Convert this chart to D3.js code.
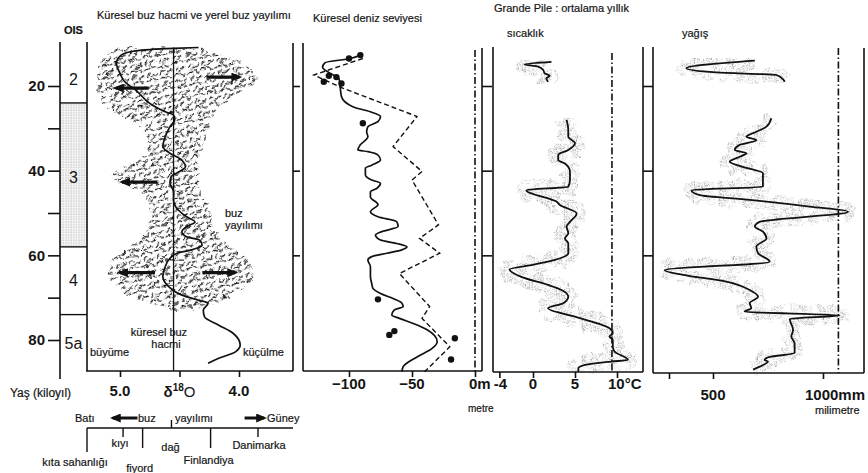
<!DOCTYPE html>
<html>
<head>
<meta charset="utf-8">
<script src="https://cdn.jsdelivr.net/npm/d3@7"></script>
<style>
  body { margin: 0; background: #fff; }
  text { font-family: "Liberation Sans", Arial, sans-serif; fill: #151515; }
  .lbl { font-size: 11px; stroke: #151515; stroke-width: 0.2; }
  .tk { font-size: 15px; font-weight: bold; }
</style>
</head>
<body>
<svg id="chart" width="868" height="473"></svg>
<script>
// ---------- data ----------
var ageTicks = [20, 30, 40, 50, 60, 70, 80];
var ageLabels = [20, 40, 60, 80];

// marine isotope stages
var oisNames = ["2", "3", "4", "5a"];
var oisBounds = [24, 58, 74];
var oisLabelAge = [18.5, 41.5, 66, 80.7];

// global ice volume (d18O) curve
var d18Age = [10.9, 11.1, 11.7, 12.7, 14.6, 17.0, 19.0, 20.9, 24.5, 26.1, 26.9, 28.0, 29.6, 32.0, 34.3, 35.9, 37.1, 39.1, 40.2, 41.4, 43.0, 45.0, 46.9, 49.3, 50.9, 52.1, 53.2, 54.4, 55.6, 56.4, 57.6, 58.7, 59.5, 60.7, 62.7, 65.0, 67.4, 69.4, 70.6, 71.3, 72.9, 74.5, 76.5, 78.4, 81.2, 82.8, 84.3, 85.5];
var d18Val = [4.34, 4.55, 4.87, 4.99, 5.03, 5.00, 4.96, 4.87, 4.73, 4.62, 4.55, 4.54, 4.58, 4.62, 4.64, 4.58, 4.50, 4.45, 4.50, 4.57, 4.58, 4.55, 4.55, 4.51, 4.44, 4.37, 4.44, 4.48, 4.44, 4.33, 4.31, 4.40, 4.52, 4.58, 4.62, 4.64, 4.59, 4.48, 4.34, 4.26, 4.30, 4.29, 4.17, 4.05, 3.99, 4.03, 4.17, 4.26];
var d18Ref = 4.55;
var d18Ticks = [5.0, 4.5, 4.0];

// local ice extent (0 = continental shelf in the west, 100 = far south)
var iceAge  = [11.1, 13.9, 17.0, 19.4, 20.9, 22.5, 24.9, 27.2, 28.8, 32.8, 36.7, 39.1, 40.6, 43.0, 44.6, 48.5, 52.4, 56.4, 59.5, 62.7, 65.8, 69.0, 71.3, 72.9];
var iceWest = [15, 6, 4, 4.5, 5, 6.5, 8, 17, 26, 30, 29, 18, 11, 14, 28, 31, 31, 26.5, 14, 10, 11, 18, 31, 41];
var iceEast = [54, 75, 83, 82, 77, 70, 64, 61, 59, 57, 54, 54, 54, 54.5, 55, 59, 60, 65, 75, 81, 81, 73, 64, 52];
var arrowAge  = [17.9, 20.5, 42.7, 64.1, 64.1];
var arrowFrom = [58, 30, 34, 33, 56];
var arrowTo   = [74, 14, 17, 16, 72];

// places along the west-south transect
var placeNames = ["kıta sahanlığı", "kıyı", "fiyord", "dağ", "Finlandiya", "Danimarka"];
var placePos = [0, 17.5, 27, 41, 60, 83];

// global sea level (m)
var seaAge = [12.7, 13.5, 14.5, 15.6, 17.0, 18.2, 20.2, 22.5, 24.9, 26.1, 27.2, 28.4, 29.6, 30.8, 32.0, 33.9, 35.1, 35.5, 36.3, 37.5, 38.7, 39.4, 41.0, 42.2, 43.0, 44.2, 45.0, 46.2, 48.0, 49.7, 50.9, 52.1, 53.2, 54.4, 55.2, 56.4, 57.2, 58.0, 58.7, 59.5, 60.3, 61.1, 62.7, 65.0, 66.6, 67.8, 69.0, 70.2, 71.3, 72.1, 72.9, 74.1, 74.9, 76.1, 77.6, 80.4, 82.0, 84.0, 86.3, 87.5];
var seaLevel = [-91, -99, -119, -121, -115, -108, -107, -106, -97, -83, -75, -77, -85, -86, -85, -91, -93, -85, -77, -75, -82, -87, -87, -82, -75, -78, -83, -83, -77, -83, -77, -62, -61, -74, -79, -75, -62, -54, -58, -70, -82, -85, -83, -83, -82, -81, -75, -65, -58, -57, -64, -66, -60, -49, -38, -30, -34, -46, -57, -58];
var sea2Age = [13.5, 17.4, 20.5, 27.2, 34.3, 40.2, 42.2, 52.8, 56.0, 59.5, 64.3, 72.1, 74.9, 81.6, 87.5];
var sea2Level = [-89, -128, -105, -46, -65, -42, -50, -29, -44, -28, -60, -36, -42, -20, -40];
var seaDotAge = [12.7, 13.5, 17.6, 17.9, 19.4, 19.0, 28.8, 70.4, 78.8, 77.9, 79.6, 84.6];
var seaDotLevel = [-91, -100, -116, -110, -106, -120, -89, -77, -68, -64, -16, -19];
var seaTicks = [-100, -50, 0];
var seaRef = 0;

// Grande Pile mean annual temperature (degC), two sections
var tempAgeA = [14.3, 14.9, 15.4, 16.2, 17.0, 17.6, 18.2, 19.0];
var tempValA = [2.2, -1.0, 0.6, 1.2, 1.4, 2.0, 1.6, 1.8];
var tempAgeB = [28.0, 30.4, 32.0, 33.5, 35.1, 36.3, 37.5, 38.3, 40.2, 42.2, 43.8, 44.6, 47.3, 48.1, 50.1, 52.1, 53.2, 54.8, 56.0, 57.2, 59.5, 61.1, 62.3, 63.3, 65.1, 67.0, 68.2, 69.8, 71.3, 72.5, 74.5, 77.2, 78.4, 79.2, 80.0, 81.6, 82.7, 84.7, 85.1, 85.9, 86.7, 87.5];
var tempValB = [4.0, 4.2, 4.2, 5.0, 4.2, 3.0, 3.0, 3.8, 4.4, 4.4, 4.2, -0.8, 2.8, 3.2, 5.2, 4.4, 4.0, 4.2, 3.8, 4.2, 4.2, 2.6, -0.2, -2.8, -1.4, 1.8, 3.4, 4.2, 3.6, 1.8, 5.0, 9.1, 9.5, 9.1, 9.5, 9.5, 9.7, 11.3, 9.3, 6.2, 5.4, 5.4];
var tempTicks = [-4, 0, 5, 10];
var tempRef = 9.4;

// Grande Pile annual precipitation (mm), two sections
var precAgeA = [14.0, 15.8, 16.8, 17.4, 18.4, 19.0];
var precValA = [690, 379, 515, 788, 818, 826];
var precAgeB = [27.6, 29.6, 30.8, 32.0, 32.8, 33.9, 35.1, 35.9, 36.7, 37.9, 39.1, 40.6, 43.8, 44.6, 45.8, 46.9, 48.5, 49.7, 52.1, 53.2, 54.4, 56.0, 57.9, 59.5, 61.5, 63.5, 64.6, 66.2, 68.2, 69.8, 71.3, 72.5, 73.3, 74.2, 75.0, 77.6, 79.2, 80.8, 83.1, 84.0, 84.7, 85.1, 86.3, 87.0];
var precValB = [765, 743, 697, 652, 697, 621, 599, 652, 621, 576, 636, 727, 727, 402, 440, 667, 940, 1114, 712, 690, 727, 743, 697, 705, 758, 280, 364, 561, 667, 705, 667, 674, 644, 1076, 849, 864, 856, 871, 871, 758, 735, 750, 712, 682];
var precTicks = [300, 500, 1000];
var precRef = 1070;

// ---------- layout ----------
var svg = d3.select("#chart");
var defs = svg.append("defs");

var yAge = d3.scaleLinear().domain([20, 80]).range([86, 340]);
var xIce = d3.scaleLinear().domain([0, 100]).range([87, 293]);
var xD18 = d3.scaleLinear().domain([5.0, 4.0]).range([120, 239]);
var xSea = d3.scaleLinear().domain([-100, 0]).range([349, 475]);
var xTemp = d3.scaleLinear().domain([0, 10]).range([533, 617]);
var xPrec = d3.scaleLinear().domain([500, 1000]).range([713, 823]);

// textures
var ice = defs.append("pattern").attr("id", "ice").attr("patternUnits", "userSpaceOnUse")
  .attr("width", 14).attr("height", 12).attr("patternTransform", "rotate(-12)");
ice.append("path")
  .attr("d", "M1,3 q2.2,-2.6 4.6,-0.6 M8,1.5 q1.6,2.2 3.8,1.6 M2.5,9.5 q1.2,-2.2 3.4,-2.6 M8.5,8.5 q2,1.4 4.2,-0.8 M6,11.5 l2.4,-0.9")
  .attr("fill", "none").attr("stroke", "#111").attr("stroke-width", 1.25).attr("stroke-linecap", "round");

var dots = defs.append("pattern").attr("id", "dots").attr("patternUnits", "userSpaceOnUse")
  .attr("width", 2.6).attr("height", 2.6);
dots.append("circle").attr("cx", 1).attr("cy", 1).attr("r", 0.7).attr("fill", "#555");

var rough = defs.append("filter").attr("id", "rough")
  .attr("x", "-20%").attr("y", "-10%").attr("width", "140%").attr("height", "120%");
rough.append("feTurbulence").attr("type", "fractalNoise").attr("baseFrequency", 0.14)
  .attr("numOctaves", 2).attr("seed", 4).attr("result", "n");
rough.append("feDisplacementMap").attr("in", "SourceGraphic").attr("in2", "n")
  .attr("scale", 7).attr("xChannelSelector", "R").attr("yChannelSelector", "G");

// patchy stipple: noise mask + displacement
var patchy = defs.append("filter").attr("id", "patchy")
  .attr("x", "-30%").attr("y", "-10%").attr("width", "160%").attr("height", "120%");
patchy.append("feTurbulence").attr("type", "fractalNoise").attr("baseFrequency", 0.11)
  .attr("numOctaves", 2).attr("seed", 9).attr("result", "n");
patchy.append("feColorMatrix").attr("in", "n").attr("type", "matrix")
  .attr("values", "0 0 0 0 0  0 0 0 0 0  0 0 0 0 0  4.5 0 0 0 -1.6").attr("result", "m");
patchy.append("feComposite").attr("in", "SourceGraphic").attr("in2", "m")
  .attr("operator", "in").attr("result", "p");
patchy.append("feDisplacementMap").attr("in", "p").attr("in2", "n")
  .attr("scale", 12).attr("xChannelSelector", "R").attr("yChannelSelector", "G");

defs.append("marker").attr("id", "head").attr("markerUnits", "userSpaceOnUse")
  .attr("markerWidth", 11).attr("markerHeight", 9).attr("refX", 8).attr("refY", 4.5)
  .attr("orient", "auto")
  .append("path").attr("d", "M0,0 L11,4.5 L0,9 Z").attr("fill", "#111");

function vline(x, y1, y2, w) {
  svg.append("line").attr("x1", x).attr("x2", x).attr("y1", y1).attr("y2", y2)
    .attr("stroke", "#111").attr("stroke-width", w || 1.6);
}
function hline(y, x1, x2, w) {
  svg.append("line").attr("x1", x1).attr("x2", x2).attr("y1", y).attr("y2", y)
    .attr("stroke", "#111").attr("stroke-width", w || 1.6);
}
function label(x, y, s, cls, anchor) {
  return svg.append("text").attr("x", x).attr("y", y).attr("class", cls || "lbl")
    .attr("text-anchor", anchor || "start").text(s);
}
function vcurve(xs) {
  return d3.line().y(function(d) { return yAge(d[0]); })
    .x(function(d) { return xs(d[1]); }).curve(d3.curveMonotoneY);
}
function styleAxis(g) {
  g.attr("font-family", null).attr("font-size", null);
  g.select(".domain").remove();
  g.selectAll(".tick line").attr("stroke", "#111").attr("stroke-width", 1.6);
}
function sideTicks(x, len) {
  svg.append("g").attr("transform", "translate(" + x + ",0)")
    .call(d3.axisRight(yAge).tickValues([20, 40, 60]).tickSize(len).tickFormat(""))
    .call(styleAxis);
}
function bottomTicks(scale, vals, y) {
  svg.append("g").attr("transform", "translate(0," + y + ")")
    .call(d3.axisBottom(scale).tickValues(vals).tickSize(6).tickFormat(""))
    .call(styleAxis);
}
function stipple(series, xs, width) {
  series.forEach(function(s) {
    svg.append("path").datum(d3.zip(s[0], s[1])).attr("d", vcurve(xs))
      .attr("fill", "none").attr("stroke", "url(#dots)").attr("stroke-width", width)
      .attr("stroke-linejoin", "round").attr("opacity", 0.65).attr("filter", "url(#patchy)");
  });
}
function curves(series, xs) {
  series.forEach(function(s) {
    svg.append("path").datum(d3.zip(s[0], s[1])).attr("d", vcurve(xs))
      .attr("fill", "none").attr("stroke", "#111").attr("stroke-width", 1.8);
  });
}

// ---------- titles ----------
label(97, 19, "Küresel buz hacmi ve yerel buz yayılımı");
label(64, 34, "OIS", "lbl").attr("font-weight", "bold");
label(313, 22, "Küresel deniz seviyesi");
label(494, 12, "Grande Pile : ortalama yıllık");
label(507, 37, "sıcaklık");
label(682, 37, "yağış");

// ---------- age axis & OIS column ----------
svg.append("rect").attr("x", 60).attr("width", 27)
  .attr("y", yAge(oisBounds[0])).attr("height", yAge(oisBounds[1]) - yAge(oisBounds[0]))
  .attr("fill", "#f4f4f4");
svg.append("rect").attr("x", 60).attr("width", 27)
  .attr("y", yAge(oisBounds[0])).attr("height", yAge(oisBounds[1]) - yAge(oisBounds[0]))
  .attr("fill", "url(#dots)").attr("opacity", 0.3);
vline(60, 42, 379);
vline(87, 42, 371);
oisBounds.forEach(function(a) { hline(yAge(a), 60, 87, 1.4); });
oisNames.forEach(function(n, i) {
  svg.append("text").attr("x", 73.5).attr("y", yAge(oisLabelAge[i])).attr("dy", "0.36em")
    .attr("text-anchor", "middle").style("font-size", "16px").text(n);
});

var ageAxis = svg.append("g").attr("transform", "translate(60,0)")
  .call(d3.axisLeft(yAge).tickValues(ageTicks).tickSize(12).tickPadding(3)
    .tickFormat(function(d) { return ageLabels.indexOf(d) >= 0 ? d : ""; }))
  .call(styleAxis);
ageAxis.selectAll(".tick text").attr("class", "tk").attr("fill", null);

// ---------- panel 1: ice ----------
var iceData = iceAge.map(function(a, i) { return { age: a, w: iceWest[i], e: iceEast[i] }; });
svg.append("path").datum(iceData)
  .attr("d", d3.area().y(function(d) { return yAge(d.age); })
    .x0(function(d) { return xIce(d.w); }).x1(function(d) { return xIce(d.e); })
    .curve(d3.curveBasis))
  .attr("fill", "url(#ice)").attr("filter", "url(#rough)");

vline(xD18(d18Ref), yAge(10.9), 371, 1.3);
svg.append("path").datum(d3.zip(d18Age, d18Val))
  .attr("d", vcurve(xD18)).attr("fill", "none").attr("stroke", "#111").attr("stroke-width", 1.7);

arrowAge.forEach(function(a, i) {
  svg.append("line").attr("x1", xIce(arrowFrom[i])).attr("x2", xIce(arrowTo[i]))
    .attr("y1", yAge(a)).attr("y2", yAge(a))
    .attr("stroke", "#111").attr("stroke-width", 3.2).attr("marker-end", "url(#head)");
});

label(225, 217, "buz");
label(225, 229, "yayılımı");
label(159, 336, "küresel buz", "lbl", "middle");
label(166, 348, "hacmi", "lbl", "middle");
label(90, 356, "büyüme");
label(243, 356, "küçülme");

hline(371, 86, 293);
vline(293, 43, 371);
sideTicks(293, 7);
bottomTicks(xD18, d18Ticks, 371);
label(xD18(5.0), 396, "5.0", "tk", "middle");
label(xD18(4.0), 396, "4.0", "tk", "middle");
var dl = label(xD18(4.5), 397, "", "tk", "middle");
dl.append("tspan").text("δ");
dl.append("tspan").attr("dy", -6).style("font-size", "10px").text("18");
dl.append("tspan").attr("dy", 6).style("font-weight", "normal").text("O");
label(10, 397, "Yaş (kiloyıl)").style("font-size", "12px");

// transect below panel 1
hline(428, xIce(0), xIce(100), 1.4);
var tickEnd = [452, 437, 448, 420, 448, 437];
var nameY = [466, 447, 472, 451, 464, 449];
var nameDx = [-12, -3, -3, -1, -2, 1];
placePos.forEach(function(p, i) {
  vline(xIce(p), 428, tickEnd[i], 1.4);
  label(xIce(p) + nameDx[i], nameY[i], placeNames[i], "lbl", "middle");
});
svg.append("line").attr("x1", xIce(24.5)).attr("x2", xIce(12.5)).attr("y1", 418).attr("y2", 418)
  .attr("stroke", "#111").attr("stroke-width", 3).attr("marker-end", "url(#head)");
svg.append("line").attr("x1", xIce(76.5)).attr("x2", xIce(86)).attr("y1", 418).attr("y2", 418)
  .attr("stroke", "#111").attr("stroke-width", 3).attr("marker-end", "url(#head)");
label(75, 422, "Batı");
label(138, 422, "buz");
label(175, 422, "yayılımı");
label(267, 422, "Güney");

// ---------- panel 2: sea level ----------
vline(303, 43, 371);
hline(371, 303, 482);
vline(482, 48, 371);
sideTicks(482, 10);
svg.append("line").attr("x1", xSea(seaRef)).attr("x2", xSea(seaRef)).attr("y1", 50).attr("y2", 371)
  .attr("stroke", "#111").attr("stroke-width", 1.6).attr("stroke-dasharray", "7,2.5,1.5,2.5");
svg.append("path").datum(d3.zip(sea2Age, sea2Level))
  .attr("d", d3.line().y(function(d) { return yAge(d[0]); }).x(function(d) { return xSea(d[1]); }))
  .attr("fill", "none").attr("stroke", "#111").attr("stroke-width", 1.4).attr("stroke-dasharray", "5,3");
svg.append("path").datum(d3.zip(seaAge, seaLevel))
  .attr("d", vcurve(xSea)).attr("fill", "none").attr("stroke", "#111").attr("stroke-width", 1.7);
svg.selectAll(".seadot").data(d3.zip(seaDotAge, seaDotLevel)).enter().append("circle")
  .attr("cx", function(d) { return xSea(d[1]); }).attr("cy", function(d) { return yAge(d[0]); })
  .attr("r", 3.2).attr("fill", "#111");
bottomTicks(xSea, seaTicks, 371);
label(xSea(-100), 389, "−100", "tk", "middle");
label(xSea(-50), 389, "−50", "tk", "middle");
label(xSea(0) - 6, 389, "0m", "tk", "start");
label(468, 412, "metre").style("font-size", "10px");

// ---------- panel 3: temperature ----------
vline(493, 47, 372);
hline(372, 493, 643);
vline(643, 47, 372);
sideTicks(643, 10);
var tempSeries = [[tempAgeA, tempValA], [tempAgeB, tempValB]];
stipple(tempSeries, xTemp, 20);
svg.append("line").attr("x1", xTemp(tempRef)).attr("x2", xTemp(tempRef)).attr("y1", 53).attr("y2", 372)
  .attr("stroke", "#111").attr("stroke-width", 1.6).attr("stroke-dasharray", "7,2.5,1.5,2.5");
curves(tempSeries, xTemp);
bottomTicks(xTemp, tempTicks, 372);
label(xTemp(-4) + 1, 389, "-4", "tk", "middle");
label(xTemp(0), 389, "0", "tk", "middle");
label(xTemp(5), 389, "5", "tk", "middle");
label(xTemp(10) - 9, 389, "10°C", "tk", "start");

// ---------- panel 4: precipitation ----------
vline(653, 47, 373);
hline(373, 653, 864);
vline(864, 48, 373);
var precSeries = [[precAgeA, precValA], [precAgeB, precValB]];
stipple(precSeries, xPrec, 16);
svg.append("line").attr("x1", xPrec(precRef)).attr("x2", xPrec(precRef)).attr("y1", 48).attr("y2", 373)
  .attr("stroke", "#111").attr("stroke-width", 1.6).attr("stroke-dasharray", "7,2.5,1.5,2.5");
curves(precSeries, xPrec);
bottomTicks(xPrec, precTicks, 373);
label(xPrec(500), 400, "500", "tk", "middle");
label(xPrec(1000) - 18, 400, "1000mm", "tk", "start");
label(815, 414, "milimetre").style("font-size", "11px");
</script>
</body>
</html>
